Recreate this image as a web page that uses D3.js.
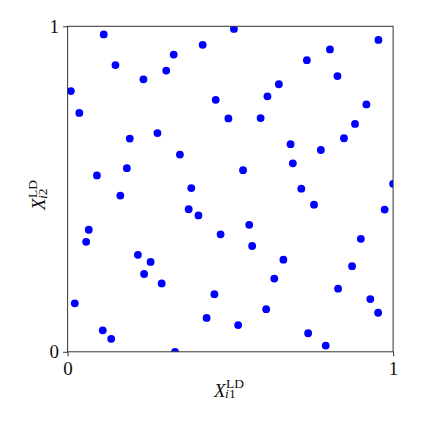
<!DOCTYPE html>
<html>
<head>
<meta charset="utf-8">
<script src="https://cdn.jsdelivr.net/npm/d3@7"></script>
<style>
  body { margin: 0; background: #fff; }
  svg { display: block; }
</style>
</head>
<body>
<div id="container"></div>
<script>
// design points (unit square)
const xVals = [0.111, 0.415, 0.326, 0.147, 0.303, 0.233, 0.010, 0.455, 0.036, 0.494, 0.276, 0.191, 0.345, 0.182, 0.090, 0.380,
  0.511, 0.955, 0.806, 0.735, 0.829, 0.649, 0.614, 0.918, 0.593, 0.883, 0.849, 0.685, 0.778, 0.692, 0.539, 0.718, 1.000,
  0.162, 0.372, 0.402, 0.065, 0.057, 0.470, 0.216, 0.255, 0.235, 0.289, 0.451, 0.022, 0.427, 0.108, 0.134, 0.330,
  0.757, 0.974, 0.558, 0.567, 0.901, 0.663, 0.874, 0.635, 0.831, 0.610, 0.930, 0.954, 0.524, 0.739, 0.793];
const yVals = [0.975, 0.943, 0.913, 0.881, 0.864, 0.837, 0.801, 0.774, 0.734, 0.717, 0.672, 0.655, 0.606, 0.564, 0.542, 0.503,
  0.992, 0.958, 0.929, 0.896, 0.847, 0.822, 0.785, 0.760, 0.718, 0.700, 0.656, 0.638, 0.620, 0.579, 0.558, 0.501, 0.516,
  0.480, 0.438, 0.419, 0.375, 0.338, 0.361, 0.298, 0.276, 0.239, 0.210, 0.177, 0.149, 0.104, 0.066, 0.040, 0.000,
  0.452, 0.437, 0.390, 0.325, 0.347, 0.283, 0.263, 0.225, 0.194, 0.131, 0.162, 0.120, 0.082, 0.057, 0.019];
const xTicks = [0, 1];
const yTicks = [0, 1];

const width = 423;
const height = 423;
const marginLeft = 67.6;
const marginTop = 26.3;
const plotSize = 325.5;
const font = "'Liberation Serif', 'DejaVu Serif', serif";

const svg = d3.select("#container")
  .append("svg")
  .attr("width", width)
  .attr("height", height);

const x = d3.scaleLinear().domain([0, 1]).range([marginLeft, marginLeft + plotSize]);
const y = d3.scaleLinear().domain([0, 1]).range([marginTop + plotSize, marginTop]);

svg.append("clipPath").attr("id", "clip")
  .append("rect")
  .attr("x", marginLeft).attr("y", marginTop)
  .attr("width", plotSize).attr("height", plotSize);

const data = xVals.map((v, i) => ({ x: v, y: yVals[i] }));

svg.append("g")
  .attr("clip-path", "url(#clip)")
  .selectAll("circle")
  .data(data)
  .enter()
  .append("circle")
  .attr("cx", d => x(d.x))
  .attr("cy", d => y(d.y))
  .attr("r", 3.9)
  .attr("fill", "#0000ff");

// axes (ticks outward, only 0 and 1)
const xAxis = svg.append("g")
  .attr("transform", `translate(0,${marginTop + plotSize})`)
  .call(d3.axisBottom(x).tickValues(xTicks).tickFormat(d3.format("d")).tickSize(4.5).tickPadding(5));
const yAxis = svg.append("g")
  .attr("transform", `translate(${marginLeft},0)`)
  .call(d3.axisLeft(y).tickValues(yTicks).tickFormat(d3.format("d")).tickSize(4.5).tickPadding(4));

[xAxis, yAxis].forEach(a => {
  a.attr("font-family", font).attr("font-size", 19);
  a.select(".domain").remove();
  a.selectAll("line").attr("stroke", "#333").attr("stroke-width", 1);
  a.selectAll("text").attr("fill", "#111");
});

// frame
svg.append("rect")
  .attr("x", marginLeft).attr("y", marginTop)
  .attr("width", plotSize).attr("height", plotSize)
  .attr("fill", "none")
  .attr("stroke", "#333")
  .attr("stroke-width", 1);

// X_{ik}^{LD} label, one text element with positioned tspans
function drawLabel(g, sub) {
  const t = g.append("text")
    .attr("font-family", font).attr("font-size", 19).attr("fill", "#111");
  const main = t.append("tspan").attr("x", 0).attr("y", 0).attr("font-style", "italic").text("X");
  const w = main.node().getComputedTextLength() - 0.5;
  t.append("tspan").attr("x", w + 1).attr("y", -8.4).attr("font-size", 13.5).text("LD");
  t.append("tspan").attr("x", w).attr("y", 1.6).attr("font-size", 13.5).attr("font-style", "italic").text("i");
  t.append("tspan").attr("font-size", 13.5).text(sub);
}

drawLabel(svg.append("g").attr("transform", "translate(214,396.7)"), "1");
drawLabel(svg.append("g").attr("transform", "translate(45,210) rotate(-90)"), "2");
</script>
</body>
</html>
